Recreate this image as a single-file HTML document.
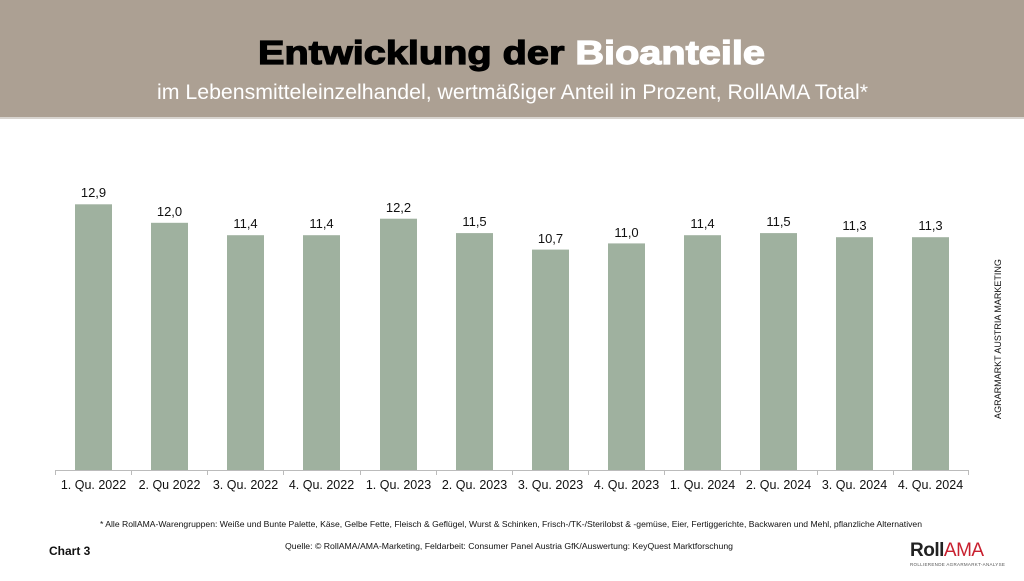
<!DOCTYPE html>
<html><head><meta charset="utf-8"><style>
html,body{margin:0;padding:0;background:#fff;}
body{width:1024px;height:576px;overflow:hidden;font-family:"Liberation Sans",Arial,sans-serif;}
</style></head><body>
<svg width="1024" height="576" viewBox="0 0 1024 576" xmlns="http://www.w3.org/2000/svg" font-family="Liberation Sans, Arial, sans-serif">
<rect x="0" y="0" width="1024" height="118" fill="#aca093"/>
<rect x="0" y="117" width="1024" height="2" fill="#d8d4cf"/>
<text x="258" y="64" font-size="33" font-weight="bold" fill="#000" stroke="#000" stroke-width="1.2" textLength="507" lengthAdjust="spacingAndGlyphs">Entwicklung der <tspan fill="#fff" stroke="#fff">Bioanteile</tspan></text>
<text x="157" y="99" font-size="21" fill="#fff" textLength="711" lengthAdjust="spacingAndGlyphs">im Lebensmitteleinzelhandel, wertmäßiger Anteil in Prozent, RollAMA Total*</text>
<line x1="55" y1="470.5" x2="969" y2="470.5" stroke="#bbb" stroke-width="1"/>
<g stroke="#bbb" stroke-width="1">
<line x1="55.5" y1="470" x2="55.5" y2="475"/><line x1="131.5" y1="470" x2="131.5" y2="475"/><line x1="207.5" y1="470" x2="207.5" y2="475"/><line x1="283.5" y1="470" x2="283.5" y2="475"/><line x1="360.5" y1="470" x2="360.5" y2="475"/><line x1="436.5" y1="470" x2="436.5" y2="475"/><line x1="512.5" y1="470" x2="512.5" y2="475"/><line x1="588.5" y1="470" x2="588.5" y2="475"/><line x1="664.5" y1="470" x2="664.5" y2="475"/><line x1="740.5" y1="470" x2="740.5" y2="475"/><line x1="817.5" y1="470" x2="817.5" y2="475"/><line x1="893.5" y1="470" x2="893.5" y2="475"/><line x1="968.5" y1="470" x2="968.5" y2="475"/>
</g>
<g fill="#9fb19f">
<rect x="75" y="204.3" width="37" height="265.7"/>
<rect x="151" y="222.8" width="37" height="247.2"/>
<rect x="227" y="235.2" width="37" height="234.8"/>
<rect x="303" y="235.2" width="37" height="234.8"/>
<rect x="380" y="218.7" width="37" height="251.3"/>
<rect x="456" y="233.1" width="37" height="236.9"/>
<rect x="532" y="249.6" width="37" height="220.4"/>
<rect x="608" y="243.4" width="37" height="226.6"/>
<rect x="684" y="235.2" width="37" height="234.8"/>
<rect x="760" y="233.1" width="37" height="236.9"/>
<rect x="836" y="237.2" width="37" height="232.8"/>
<rect x="912" y="237.2" width="37" height="232.8"/>
</g>
<g font-size="13" fill="#111" text-anchor="middle">
<text x="93.5" y="197">12,9</text>
<text x="169.5" y="216">12,0</text>
<text x="245.5" y="228">11,4</text>
<text x="321.5" y="228">11,4</text>
<text x="398.5" y="212">12,2</text>
<text x="474.5" y="226">11,5</text>
<text x="550.5" y="243">10,7</text>
<text x="626.5" y="237">11,0</text>
<text x="702.5" y="228">11,4</text>
<text x="778.5" y="226">11,5</text>
<text x="854.5" y="230">11,3</text>
<text x="930.5" y="230">11,3</text>
</g>
<g font-size="12.5" fill="#111" text-anchor="middle">
<text x="93.5" y="489">1. Qu. 2022</text>
<text x="169.5" y="489">2. Qu 2022</text>
<text x="245.5" y="489">3. Qu. 2022</text>
<text x="321.5" y="489">4. Qu. 2022</text>
<text x="398.5" y="489">1. Qu. 2023</text>
<text x="474.5" y="489">2. Qu. 2023</text>
<text x="550.5" y="489">3. Qu. 2023</text>
<text x="626.5" y="489">4. Qu. 2023</text>
<text x="702.5" y="489">1. Qu. 2024</text>
<text x="778.5" y="489">2. Qu. 2024</text>
<text x="854.5" y="489">3. Qu. 2024</text>
<text x="930.5" y="489">4. Qu. 2024</text>
</g>
<text transform="translate(1001,339) rotate(-90)" text-anchor="middle" font-size="9" fill="#111">AGRARMARKT AUSTRIA MARKETING</text>
<text x="100" y="527" font-size="8.5" fill="#111" textLength="822" lengthAdjust="spacingAndGlyphs">* Alle RollAMA-Warengruppen: Weiße und Bunte Palette, Käse, Gelbe Fette, Fleisch &amp; Geflügel, Wurst &amp; Schinken, Frisch-/TK-/Sterilobst &amp; -gemüse, Eier, Fertiggerichte, Backwaren und Mehl, pflanzliche Alternativen</text>
<text x="285" y="549" font-size="8.5" fill="#111" textLength="448" lengthAdjust="spacingAndGlyphs">Quelle: © RollAMA/AMA-Marketing, Feldarbeit: Consumer Panel Austria GfK/Auswertung: KeyQuest Marktforschung</text>
<text x="49" y="555" font-size="12" font-weight="bold" fill="#111">Chart 3</text>
<text x="910" y="556" font-size="19" font-weight="bold" fill="#222" letter-spacing="-0.5">Roll<tspan fill="#c8202f" font-weight="normal">AMA</tspan></text>
<text x="910" y="566" font-size="4.5" fill="#555" letter-spacing="0.3">ROLLIERENDE AGRARMARKT-ANALYSE</text>
</svg>
</body></html>
